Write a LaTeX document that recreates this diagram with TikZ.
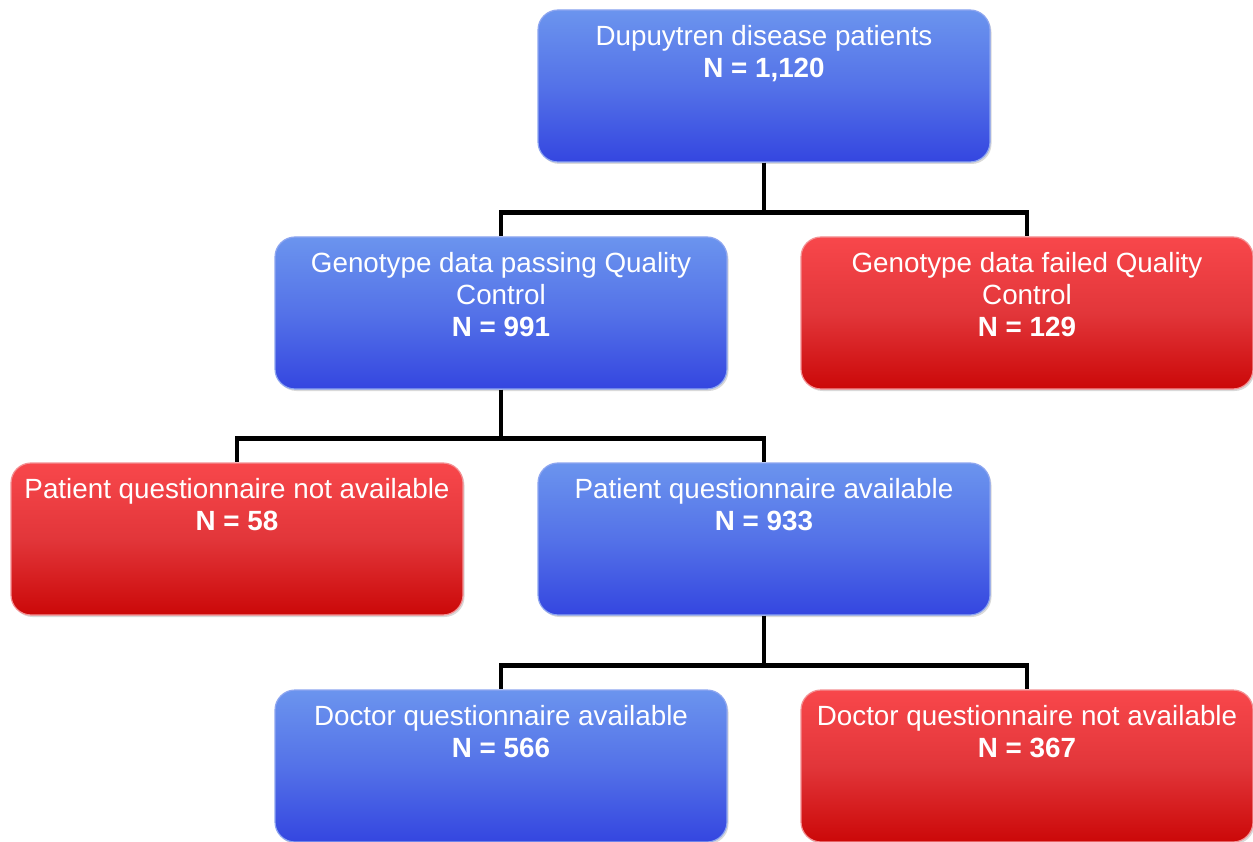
\documentclass[tikz,border=0pt]{standalone}
\usepackage{fontspec}
\setmainfont{Liberation Sans}
\usetikzlibrary{shadows}

\definecolor{blutop}{HTML}{6B94EE}
\definecolor{blumid}{HTML}{5472E8}
\definecolor{blubot}{HTML}{3446E0}
\definecolor{bluedge}{HTML}{8EA6F0}
\definecolor{redtop}{HTML}{F8474B}
\definecolor{redmid}{HTML}{E2363A}
\definecolor{redbot}{HTML}{CB0808}
\definecolor{rededge}{HTML}{F39194}

\newcommand\boxtext[2]{\parbox[t][122pt][t]{446pt}{\centering\fontsize{27.8}{32}\selectfont #1\\\textbf{N = #2}}}

\tikzset{
  flowbox/.style={rectangle, rounded corners=20pt, minimum width=452pt, minimum height=152pt,
    inner sep=0pt, text=white, draw=#1edge, line width=1.2pt,
    top color=#1top, bottom color=#1bot, middle color=#1mid,
    drop shadow={shadow xshift=1.5pt, shadow yshift=-2pt, opacity=0.3}},
  conn/.style={draw=black, line width=4.5pt},
}

\begin{document}
\begin{tikzpicture}[x=1pt, y=-1pt]

  %% ════ 方框 ════
  \node[flowbox=blu] (top)  at (764,86)   {\boxtext{Dupuytren disease patients}{1,120}};
  \node[flowbox=blu] (pass) at (501,313)  {\boxtext{Genotype data passing Quality\\Control}{991}};
  \node[flowbox=red] (fail) at (1027,313) {\boxtext{Genotype data failed Quality\\Control}{129}};
  \node[flowbox=red] (pnot) at (237,539)  {\boxtext{Patient questionnaire not available}{58}};
  \node[flowbox=blu] (pav)  at (764,539)  {\boxtext{Patient questionnaire available}{933}};
  \node[flowbox=blu] (dav)  at (501,766)  {\boxtext{Doctor questionnaire available}{566}};
  \node[flowbox=red] (dnot) at (1027,766) {\boxtext{Doctor questionnaire not available}{367}};

  %% ════ 连线（父框底部下 50 处分叉）════
  \draw[conn] (top.south) -- ++(0,50) coordinate (j1) -| (pass.north);
  \draw[conn] (j1) -| (fail.north);
  \draw[conn] (pass.south) -- ++(0,49) coordinate (j2) -| (pnot.north);
  \draw[conn] (j2) -| (pav.north);
  \draw[conn] (pav.south) -- ++(0,50) coordinate (j3) -| (dav.north);
  \draw[conn] (j3) -| (dnot.north);

  % 钉死画布
  \pgfresetboundingbox
  \path[use as bounding box] (0,0) rectangle (1253,842);
\end{tikzpicture}
\end{document}
